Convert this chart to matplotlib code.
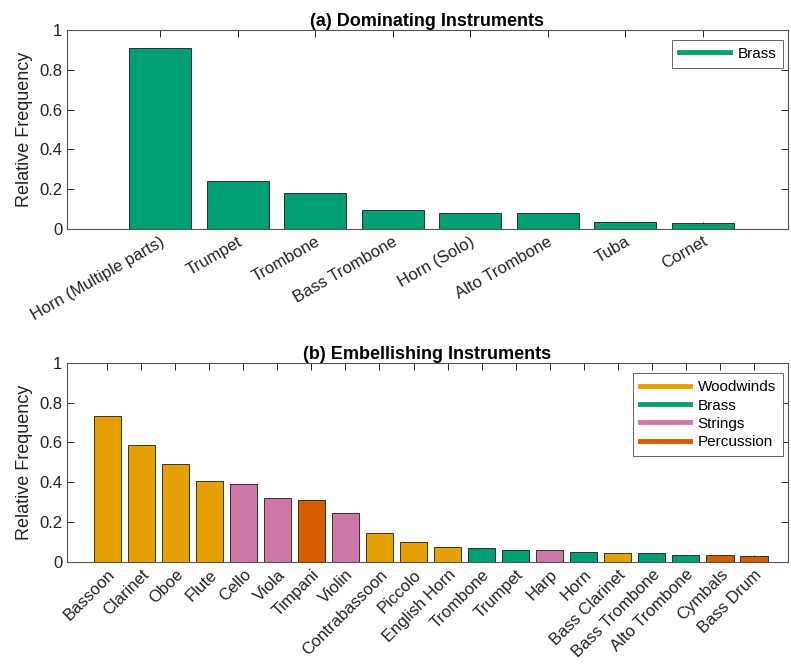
import numpy as np
import matplotlib
matplotlib.use('Agg')
import matplotlib.pyplot as plt
from matplotlib.lines import Line2D

plt.rcParams['font.family'] = ['Liberation Sans', 'DejaVu Sans']

# colour per instrument family
family_colors = {
    'Woodwinds': '#E69F00',
    'Brass': '#009E73',
    'Strings': '#CC79A7',
    'Percussion': '#D55E00',
}

# (a) dominating instruments
dom_names = ['Horn (Multiple parts)', 'Trumpet', 'Trombone', 'Bass Trombone',
             'Horn (Solo)', 'Alto Trombone', 'Tuba', 'Cornet']
dom_values = [0.908, 0.243, 0.183, 0.094, 0.079, 0.079, 0.035, 0.030]
dom_family = ['Brass'] * 8

# (b) embellishing instruments
emb_names = ['Bassoon', 'Clarinet', 'Oboe', 'Flute', 'Cello', 'Viola', 'Timpani',
             'Violin', 'Contrabassoon', 'Piccolo', 'English Horn', 'Trombone',
             'Trumpet', 'Harp', 'Horn', 'Bass Clarinet', 'Bass Trombone',
             'Alto Trombone', 'Cymbals', 'Bass Drum']
emb_values = [0.734, 0.588, 0.491, 0.409, 0.394, 0.323, 0.312, 0.245, 0.146,
              0.102, 0.074, 0.070, 0.062, 0.060, 0.050, 0.045, 0.045, 0.037,
              0.037, 0.030]
emb_family = ['Woodwinds', 'Woodwinds', 'Woodwinds', 'Woodwinds', 'Strings',
              'Strings', 'Percussion', 'Strings', 'Woodwinds', 'Woodwinds',
              'Woodwinds', 'Brass', 'Brass', 'Strings', 'Brass', 'Woodwinds',
              'Brass', 'Brass', 'Percussion', 'Percussion']

axis_gray = '#262626'


def style_axes(ax, n, xlim):
    ax.set_xlim(*xlim)
    ax.set_ylim(0, 1)
    ax.set_yticks([0, 0.2, 0.4, 0.6, 0.8, 1])
    ax.set_yticklabels(['0', '0.2', '0.4', '0.6', '0.8', '1'])
    ax.set_xticks(np.arange(n))
    ax.tick_params(direction='in', top=True, right=True, length=5,
                   width=0.7, color=axis_gray, labelsize=12,
                   labelcolor='#222222')
    for sp in ax.spines.values():
        sp.set_color('#555555')
        sp.set_linewidth(0.8)
    ax.set_ylabel('Relative Frequency', fontsize=13, color='#222222')


def draw_panel(ax, names, values, families, title, rot, xlim, legend_order, leg_top):
    x = np.arange(len(names))
    colors = [family_colors[f] for f in families]
    ax.bar(x, values, width=0.8, color=colors, edgecolor='#1a1a1a',
           linewidth=0.6, zorder=2)
    style_axes(ax, len(names), xlim)
    ax.set_xticklabels(names, rotation=rot, ha='right', rotation_mode='anchor')
    ax.set_title(title, fontsize=13, fontweight='bold', pad=3)
    handles = [Line2D([0], [0], color=family_colors[f], lw=3.5) for f in legend_order]
    leg = ax.legend(handles, legend_order, loc='upper right', fontsize=11,
                    fancybox=False, framealpha=1, edgecolor='#666666',
                    handlelength=3.3, handletextpad=0.5, borderpad=0.45,
                    labelspacing=0.28, borderaxespad=0,
                    bbox_to_anchor=(0.993, leg_top))
    leg.get_frame().set_linewidth(0.7)


fig = plt.figure(figsize=(7.91, 6.64), dpi=100)
ax1 = fig.add_axes([0.0847, 0.655, 0.9115, 0.300])
ax2 = fig.add_axes([0.0847, 0.1536, 0.9115, 0.300])

draw_panel(ax1, dom_names, dom_values, dom_family,
           '(a) Dominating Instruments', 30, (-1.2, 8.1), ['Brass'], 0.95)
draw_panel(ax2, emb_names, emb_values, emb_family,
           '(b) Embellishing Instruments', 45, (-1.18, 20.0),
           ['Woodwinds', 'Brass', 'Strings', 'Percussion'], 0.947)

fig.savefig('out.png', dpi=100)
